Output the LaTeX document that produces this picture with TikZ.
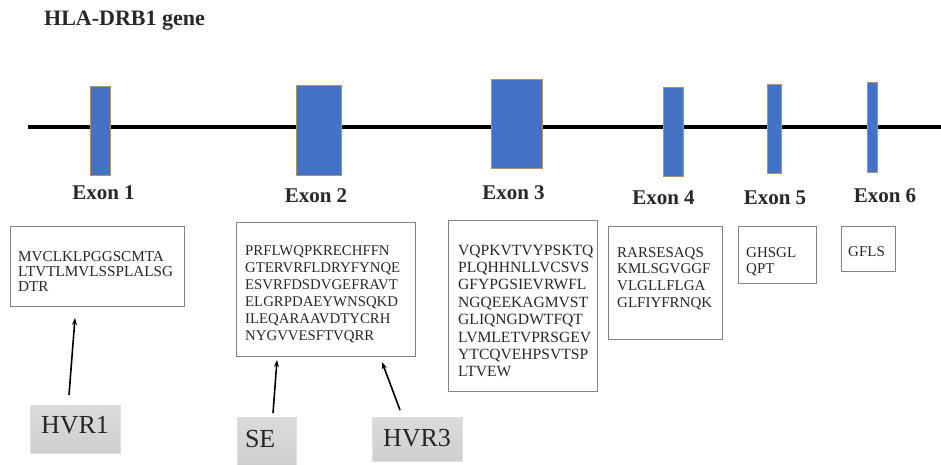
\documentclass[tikz,border=0pt]{standalone}
\usepackage{fontspec}
\setmainfont{Liberation Serif}
\usetikzlibrary{arrows.meta}
\definecolor{exonblue}{RGB}{68,114,196}
\definecolor{exonedge}{RGB}{170,150,100}
\definecolor{boxedge}{RGB}{130,130,130}
\definecolor{txt}{RGB}{40,40,40}
\tikzset{
  exon/.style={draw=exonedge, line width=0.7pt, fill=exonblue, inner sep=0pt},
  exlabel/.style={font=\fontsize{21}{24}\bfseries\selectfont, text=txt, anchor=base, inner sep=0pt},
  seqbox/.style={draw=boxedge, line width=0.8pt, fill=white, inner sep=0pt},
  seq/.style={text=txt, anchor=base west, inner sep=0pt, align=left, text width=180pt},
  greybox/.style={draw=gray!25, line width=0.8pt, top color=gray!28, bottom color=gray!38, inner sep=0pt,
     font=\fontsize{26}{30}\selectfont, text=black!85},
  pointer/.style={-{Stealth[length=7pt,width=5pt]}, line width=1.6pt, black}
}
\begin{document}
\begin{tikzpicture}[x=1pt,y=-1pt]
\useasboundingbox[fill=white] (0,0) rectangle (941,464);
% title
\node[font=\fontsize{22}{26}\bfseries\selectfont, text=txt, anchor=base west, inner sep=0pt] (title) at (44,25) {HLA-DRB1 gene};
% gene line
\coordinate (gl) at (28,127);
\coordinate (gr) at (941,127);
\draw[line width=4pt, black] (gl) -- (gr);
% exons
\node[exon, minimum width=20pt, minimum height=89pt] (e1) at (100,130.5) {};
\node[exon, minimum width=45pt, minimum height=90pt] (e2) at (318.5,130) {};
\node[exon, minimum width=51pt, minimum height=89pt] (e3) at (516.5,123.5) {};
\node[exon, minimum width=20pt, minimum height=89pt] (e4) at (673,131.5) {};
\node[exon, minimum width=14pt, minimum height=89pt] (e5) at (774,128.5) {};
\node[exon, minimum width=10pt, minimum height=90pt] (e6) at (872,127) {};
% exon labels
\node[exlabel] (l1) at (103.5,199) {Exon 1};
\node[exlabel] (l2) at (316,202) {Exon 2};
\node[exlabel] (l3) at (513.5,199) {Exon 3};
\node[exlabel] (l4) at (663.5,204) {Exon 4};
\node[exlabel] (l5) at (775,204) {Exon 5};
\node[exlabel] (l6) at (885,202) {Exon 6};
% sequence boxes
\node[seqbox, minimum width=174pt, minimum height=80pt] (b1) at (97,266) {};
\node[seqbox, minimum width=179pt, minimum height=134pt] (b2) at (325.5,289) {};
\node[seqbox, minimum width=149pt, minimum height=171pt] (b3) at (522.5,305.5) {};
\node[seqbox, minimum width=114pt, minimum height=113pt] (b4) at (665,282.5) {};
\node[seqbox, minimum width=78pt, minimum height=57pt] (b5) at (777,254.5) {};
\node[seqbox, minimum width=54pt, minimum height=45pt] (b6) at (868,248.5) {};
% sequences
\node[seq, font=\fontsize{15.2}{15}\selectfont] (s1) at (18,261) {MVCLKLPGGSCMTA\\LTVTLMVLSSPLALSG\\DTR};
\node[seq, font=\fontsize{14.8}{17}\selectfont] (s2) at (245,255) {PRFLWQPKRECHFFN\\GTERVRFLDRYFYNQE\\ESVRFDSDVGEFRAVT\\ELGRPDAEYWNSQKD\\ILEQARAAVDTYCRH\\NYGVVESFTVQRR};
\node[seq, font=\fontsize{15.6}{17.4}\selectfont] (s3) at (458,255) {VQPKVTVYPSKTQ\\PLQHHNLLVCSVS\\GFYPGSIEVRWFL\\NGQEEKAGMVST\\GLIQNGDWTFQT\\LVMLETVPRSGEV\\YTCQVEHPSVTSP\\LTVEW};
\node[seq, font=\fontsize{15}{16.7}\selectfont] (s4) at (617,257) {RARSESAQS\\KMLSGVGGF\\VLGLLFLGA\\GLFIYFRNQK};
\node[seq, font=\fontsize{15}{16}\selectfont] (s5) at (746,257) {GHSGL\\QPT};
\node[seq, font=\fontsize{15}{16}\selectfont] (s6) at (848,256) {GFLS};
% grey labels
\node[greybox, minimum width=90pt, minimum height=48pt, text depth=9pt] (hvr1) at (75,429) {HVR1};
\node[greybox, minimum width=59pt, minimum height=50pt, text depth=6pt, text width=43pt, align=left] (se) at (266.5,442) {SE};
\node[greybox, minimum width=90pt, minimum height=44pt, text depth=3pt] (hvr3) at (417,439) {HVR3};
% arrows
\coordinate (a1t) at (69,395);
\coordinate (a1h) at (75,318);
\coordinate (a2t) at (273,413);
\coordinate (a2h) at (277,360);
\coordinate (a3t) at (400,410);
\coordinate (a3h) at (382,362);
\draw[pointer] (a1t) -- (a1h);
\draw[pointer] (a2t) -- (a2h);
\draw[pointer] (a3t) -- (a3h);
\end{tikzpicture}
\end{document}
